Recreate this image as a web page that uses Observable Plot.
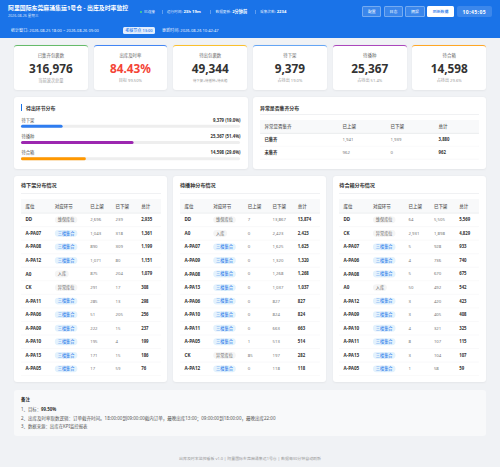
<!DOCTYPE html>
<html><head><meta charset="utf-8">
<script src="https://cdn.jsdelivr.net/npm/d3@7"></script>
<script src="https://cdn.jsdelivr.net/npm/@observablehq/plot@0.6"></script>
<style>
html,body{margin:0;padding:0;background:#f0f2f5}
#page{position:relative;width:500px;height:467px;overflow:hidden;font-family:"Noto Sans","Noto Sans CJK SC",sans-serif;color:#333}
#page div{position:absolute;white-space:nowrap;line-height:1}
.panel{background:#fff;border-radius:3px;box-shadow:0 .5px 2px rgba(0,0,0,.05)}
svg{display:block}
</style></head><body><div id="page"></div>
<script>
// ---------- data ----------
const titleText = "阿里国际东莞麻涌集运1号仓 - 出库及时率监控";
const dateText = "2026-08-26 星期三";
const connectedText = "已连接";
const headerStatNames = ["运行时间: ", "数据更新: ", "采集次数: "];
const headerStatValues = ["23h 19m", "2分钟前", "2234"];
const buttons = ["配置", "日志", "拥报", "刷新数据"];
const clockText = "10:45:05";
const windowText = "统计窗口: 2026-08-25 18:00 ~ 2026-08-26 09:00";
const windowTag = "考核节点 13:00";
const updateText = "更新时间: 2026-08-26 10:42:47";

const kpiLabels = ["已集齐包裹数", "出库及时率", "待出包裹数", "待下架", "待播种", "待合箱"];
const kpiValues = ["316,976", "84.43%", "49,344", "9,379", "25,367", "14,598"];
const kpiNotes = ["当前波次总量", "目标 99.50%", "待下架+待播种+待合箱", "占待出 19.0%", "占待出 51.4%", "占待出 29.6%"];

const stageNames = ["待下架", "待播种", "待合箱"];
const stageCounts = [9379, 25367, 14598];
const stageShares = [19.0, 51.4, 29.6];

const exceptionCols = ["异常是否集齐", "已上架", "已下架", "总计"];
const exceptionNames = ["已集齐", "未集齐"];
const exceptionUp = [1941, 962];
const exceptionDown = [1939, 0];
const exceptionTotal = [3880, 962];

const locCols = ["库位", "对应环节", "已上架", "已下架", "总计"];

const pickLoc = ["DD", "A-PA07", "A-PA08", "A-PA12", "A0", "CK", "A-PA11", "A-PA06", "A-PA09", "A-PA10", "A-PA13", "A-PA05"];
const pickStage = ["维保库位", "三楼集合", "三楼集合", "三楼集合", "入库", "异常库位", "三楼集合", "三楼集合", "三楼集合", "三楼集合", "三楼集合", "三楼集合"];
const pickUp = [2696, 1043, 890, 1071, 875, 291, 285, 51, 222, 195, 171, 17];
const pickDown = [239, 318, 309, 80, 204, 17, 13, 205, 15, 4, 15, 59];
const pickTotal = [2935, 1361, 1199, 1151, 1079, 308, 298, 256, 237, 199, 186, 76];

const sowLoc = ["DD", "A0", "A-PA07", "A-PA09", "A-PA08", "A-PA13", "A-PA06", "A-PA10", "A-PA11", "A-PA05", "CK", "A-PA12"];
const sowStage = ["维保库位", "入库", "三楼集合", "三楼集合", "三楼集合", "三楼集合", "三楼集合", "三楼集合", "三楼集合", "三楼集合", "异常库位", "三楼集合"];
const sowUp = [7, 0, 0, 0, 0, 0, 0, 0, 0, 1, 85, 0];
const sowDown = [13867, 2423, 1625, 1320, 1268, 1037, 827, 824, 663, 513, 197, 118];
const sowTotal = [13874, 2423, 1625, 1320, 1268, 1037, 827, 824, 663, 514, 282, 118];

const packLoc = ["DD", "CK", "A-PA07", "A-PA06", "A-PA08", "A0", "A-PA12", "A-PA09", "A-PA10", "A-PA11", "A-PA13", "A-PA05"];
const packStage = ["维保库位", "异常库位", "三楼集合", "三楼集合", "三楼集合", "入库", "三楼集合", "三楼集合", "三楼集合", "三楼集合", "三楼集合", "三楼集合"];
const packUp = [64, 2931, 5, 4, 5, 50, 3, 3, 4, 8, 3, 1];
const packDown = [5505, 1898, 928, 736, 670, 492, 420, 405, 321, 107, 104, 58];
const packTotal = [5569, 4829, 933, 740, 675, 542, 423, 408, 325, 115, 107, 59];

const noteTitle = "备注";
const noteLines = ["1、目标：", "2、出库及时率取数逻辑：订单截齐时间。18:00:00到09:00:00截内订单，最晚出库13:00；09:00:00到18:00:00，最晚出库22:00", "3、数据来源：出库在KPI监控报表"];
const noteTarget = "99.50%";
const footerText = "出库及时率监控看板 v1.0 | 阿里国际东莞麻涌集运1号仓 | 数据每30分钟自动刷新";

// ---------- layout helpers ----------
const FONT = '"Noto Sans","Noto Sans CJK SC",sans-serif';
const page = document.getElementById("page");
function box(x, y, w, h, css = "", cls = "") {
  const d = document.createElement("div");
  d.style.cssText = `left:${x}px;top:${y}px;width:${w}px;height:${h}px;${css}`;
  if (cls) d.className = cls;
  page.appendChild(d);
  return d;
}
function label(text, x, yc, size, color, weight = 400, anchor = "left", extra = "") {
  const d = document.createElement("div");
  const tx = anchor === "center" ? "-50%" : anchor === "right" ? "-100%" : "0";
  d.style.cssText = `left:${x}px;top:${yc}px;transform:translate(${tx},-50%);font-size:${size}px;color:${color};font-weight:${weight};${extra}`;
  d.textContent = text;
  page.appendChild(d);
  return d;
}
function place(svg, x, y) {
  svg.style.position = "absolute";
  svg.style.left = x + "px";
  svg.style.top = y + "px";
  page.appendChild(svg);
}

// ---------- header ----------
box(0, 0, 500, 37.7, "background:#1a73e8");
label(titleText, 8, 9, 5.9, "#fff", 700);
label(dateText, 8, 15.8, 3.6, "rgba(255,255,255,.8)");
box(139.8, 10.6, 2, 2, "background:#4ade80;border-radius:50%");
label(connectedText, 144, 11.6, 3.7, "rgba(255,255,255,.92)");
[162, 210, 254.5].forEach(x => box(x, 9.5, .4, 4, "background:rgba(255,255,255,.3)"));
[166.7, 215.5, 260].forEach((x, i) => {
  const s = label(headerStatNames[i], x, 11.6, 3.7, "rgba(255,255,255,.88)");
  s.style.whiteSpace = "pre";
  const b = document.createElement("b");
  b.textContent = headerStatValues[i];
  b.style.cssText = "font-size:4.2px;color:#fff";
  s.appendChild(b);
});
const btnX = [[362.3, 19], [384, 19], [405.3, 19.4]];
btnX.forEach(([x, w], i) => {
  box(x, 6.3, w, 10.4, "background:rgba(255,255,255,.14);border:.4px solid rgba(255,255,255,.3);border-radius:1.5px;box-sizing:border-box");
  label(buttons[i], x + w / 2, 11.5, 3.9, "#fff", 400, "center");
});
box(427.3, 6.3, 26.7, 10.4, "background:#fff;border-radius:1.5px");
label(buttons[3], 440.6, 11.5, 3.9, "#1a73e8", 500, "center");
box(457, 6.3, 34.7, 10.4, "background:rgba(255,255,255,.15);border-radius:2px");
label(clockText, 474.3, 11.5, 5, "#fff", 700, "center", "letter-spacing:.45px");
label(windowText, 11, 30.8, 4.05, "rgba(255,255,255,.92)");
box(122.8, 27.2, 32.4, 7, "background:rgba(255,255,255,.88);border-radius:1.5px");
label(windowTag, 139, 30.7, 4, "#1a73e8", 500, "center");
label(updateText, 162, 30.8, 4.05, "rgba(255,255,255,.92)");

// ---------- KPI cards ----------
const kpiX = [14, 93.5, 173.3, 253, 332.8, 412.3];
const kpiTop = ["#66bb6a", "#4285f4", "#fbc02d", "#64a5f5", "#ab47bc", "#ffa726"];
const kpiFill = ["#333", "#f44336", "#333", "#333", "#333", "#333"];
const kpiNoteSize = [4.2, 4.1, 3.4, 4.1, 4.1, 4.1];
kpiX.forEach((x, i) => {
  box(x, 45, 73.8, 45, `border-top:1.7px solid ${kpiTop[i]};box-sizing:border-box`, "panel");
  label(kpiLabels[i], x + 36.9, 55.3, 4.4, "#666", 400, "center");
  label(kpiValues[i], x + 36.9, 68.7, 11.8, kpiFill[i], 700, "center");
  label(kpiNotes[i], x + 36.9, 80.5, kpiNoteSize[i], "#999", 400, "center");
});

// ---------- stage distribution ----------
box(14, 97, 233.5, 72, "", "panel");
box(20.8, 104, 1.1, 7, "background:#1a73e8");
label("待出环节分布", 26, 107.8, 4.9, "#333", 700);
const stageRows = stageNames.map((name, i) => ({name, count: stageCounts[i], share: stageShares[i]}));
const stageColors = ["#2f7df0", "#9c27b0", "#ff9800"];
const barStep = 16.3;
const barSvg = Plot.plot({
  width: 219, height: barStep * 3 + 8, marginTop: 8, marginBottom: 0, marginLeft: 0, marginRight: 0,
  style: {background: "transparent", fontFamily: FONT, overflow: "visible"},
  x: {domain: [0, 100], axis: null},
  y: {type: "band", domain: stageNames, axis: null, padding: 0, round: false},
  color: {domain: stageNames, range: stageColors},
  marks: [
    Plot.barX(stageRows, {x1: () => 0, x2: () => 100, y: "name", fill: "#eeeeee", insetTop: 6.65, insetBottom: 6.65, rx: 1.5}),
    Plot.barX(stageRows, {x: "share", y: "name", fill: "name", insetTop: 6.65, insetBottom: 6.65, rx: 1.5}),
    Plot.text(stageRows, {y: "name", text: "name", frameAnchor: "left", dy: -6.5, fontSize: 4.3, fill: "#555"}),
    Plot.text(stageRows, {y: "name", text: d => `${d3.format(",")(d.count)} (${d.share.toFixed(1)}%)`, frameAnchor: "right", dy: -6.5, fontSize: 4.3, fontWeight: 700, fill: "#333"})
  ]
});
place(barSvg, 21, 110.4);

// ---------- tables ----------
const pillShapes = {
  wide: pillSymbol(22.6, 6.8),
  narrow: pillSymbol(14, 6.8)
};
function pillSymbol(w, h) {
  return {draw(ctx) {
    const r = h / 2, a = w / 2 - r;
    ctx.moveTo(-a, -r);
    ctx.lineTo(a, -r);
    ctx.arc(a, 0, r, -Math.PI / 2, Math.PI / 2);
    ctx.lineTo(-a, r);
    ctx.arc(-a, 0, r, Math.PI / 2, Math.PI * 1.5);
    ctx.closePath();
  }};
}
function tablePlot({cols, offsets, columns, width, step, hasStage, size = 4.3}) {
  const n = columns[0].length;
  const rows = d3.range(n).map(i => Object.fromEntries(columns.map((c, j) => [j, c[i]])));
  const HDR = "__header__";
  const keys = [HDR, ...columns[0]];
  const headerRow = [HDR];
  const fmt = d3.format(",");
  const numStart = hasStage ? 2 : 1;
  const marks = [
    Plot.cell(headerRow, {y: d => d, fill: "#f8f9fa"}),
    Plot.ruleY(headerRow, {y: d => d, dy: step / 2, stroke: "#e3e5e8", strokeWidth: .7}),
    Plot.ruleY(rows, {y: d => d[0], dy: step / 2, stroke: "#f2f3f5", strokeWidth: .5})
  ];
  cols.forEach((c, j) => marks.push(Plot.text(headerRow, {y: d => d, text: () => c, frameAnchor: "left", dx: offsets[j], fontSize: size + .2, fill: "#555", fontWeight: 500})));
  marks.push(Plot.text(rows, {y: d => d[0], text: d => d[0], frameAnchor: "left", dx: offsets[0], fontSize: hasStage ? 4.6 : size, fontWeight: 700, fill: "#333"}));
  if (hasStage) {
    const isNarrow = s => s === "入库";
    const isBlue = s => s === "三楼集合";
    marks.push(Plot.dot(rows.filter(d => isBlue(d[1])), {y: d => d[0], frameAnchor: "left", dx: offsets[1] + 11.3, symbol: pillShapes.wide, fill: "#e3f2fd"}));
    marks.push(Plot.dot(rows.filter(d => !isBlue(d[1]) && !isNarrow(d[1])), {y: d => d[0], frameAnchor: "left", dx: offsets[1] + 11.3, symbol: pillShapes.wide, fill: "#f5f5f5"}));
    marks.push(Plot.dot(rows.filter(d => isNarrow(d[1])), {y: d => d[0], frameAnchor: "left", dx: offsets[1] + 7, symbol: pillShapes.narrow, fill: "#f5f5f5"}));
    marks.push(Plot.text(rows, {y: d => d[0], text: d => d[1], frameAnchor: "left", fontSize: 4.2, fill: d => isBlue(d[1]) ? "#1a73e8" : "#666", dx: offsets[1] + 2.9}));
  }
  for (let j = numStart; j < columns.length; j++) {
    const last = j === columns.length - 1;
    marks.push(Plot.text(rows, {y: d => d[0], text: d => fmt(d[j]), frameAnchor: "left", dx: offsets[j], fontSize: size, fontWeight: last ? 700 : 400, fill: last ? "#333" : "#777"}));
  }
  return Plot.plot({
    width, height: step * (n + 1) + 1, marginTop: 0, marginBottom: 1, marginLeft: 0, marginRight: 0,
    style: {background: "transparent", fontFamily: FONT},
    x: {axis: null},
    y: {type: "band", domain: keys, axis: null, padding: 0, round: false},
    marks
  });
}

box(253, 97, 233.3, 72, "", "panel");
label("异常是否集齐分布", 260, 107.8, 4.9, "#333", 700);
box(260, 114.2, 219, .4, "background:#f0f1f3");
place(tablePlot({
  cols: exceptionCols, offsets: [4, 82, 130, 178], width: 219, step: 12.9,
  columns: [exceptionNames, exceptionUp, exceptionDown, exceptionTotal], hasStage: false
}), 260, 120.2);

const tables = [
  {title: "待下架分布情况", x: 14, tx: 21, offs: [4, 33.3, 68.7, 94, 119.7], cols: [pickLoc, pickStage, pickUp, pickDown, pickTotal]},
  {title: "待播种分布情况", x: 173, tx: 180, offs: [4, 32.7, 67.3, 92, 117.3], cols: [sowLoc, sowStage, sowUp, sowDown, sowTotal]},
  {title: "待合箱分布情况", x: 332.7, tx: 339.3, offs: [4, 33.4, 69, 94.4, 119.7], cols: [packLoc, packStage, packUp, packDown, packTotal]}
];
tables.forEach(t => {
  box(t.x, 175.7, 153.4, 206, "", "panel");
  label(t.title, t.tx, 186.4, 5.1, "#333", 700);
  box(t.tx, 193.2, 140, .4, "background:#f0f1f3");
  place(tablePlot({cols: locCols, offsets: t.offs, columns: t.cols, width: 140, step: 13.55, hasStage: true}), t.tx, 199);
});

// ---------- notes ----------
box(14, 389.5, 472, 46.5, "background:#f8f9fa;border-radius:3px");
label(noteTitle, 21, 398.5, 4.4, "#333", 700);
const t1 = label(noteLines[0], 21, 409, 4.4, "#555");
const strong = document.createElement("b");
strong.textContent = noteTarget;
strong.style.color = "#333";
t1.appendChild(strong);
label(noteLines[1], 21, 417.8, 4.5, "#555");
label(noteLines[2], 21, 426.4, 4.4, "#555");
label(footerText, 250, 459, 3.95, "#999", 400, "center");
</script></body></html>
